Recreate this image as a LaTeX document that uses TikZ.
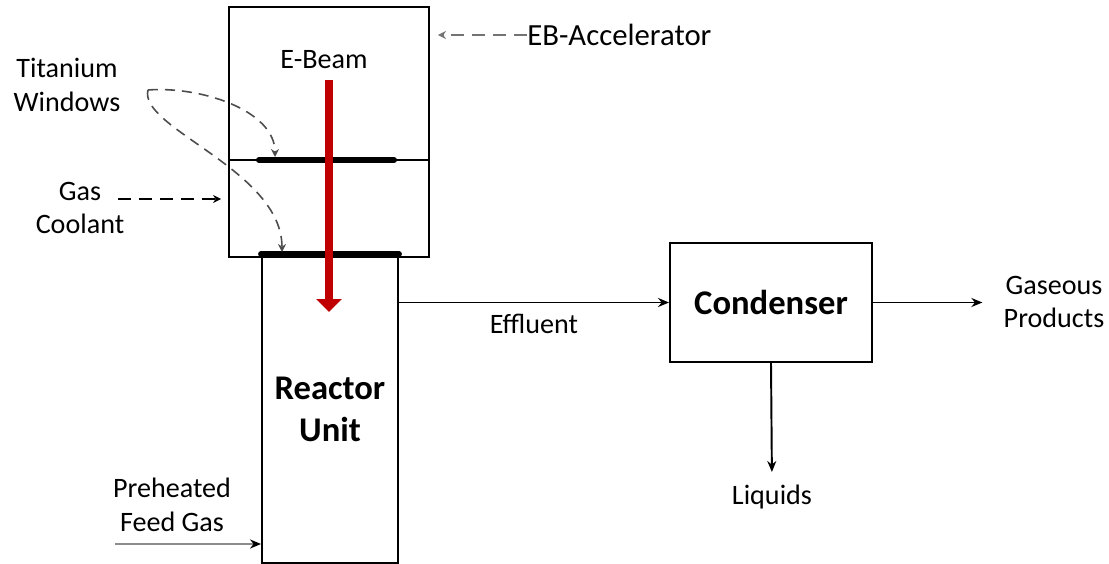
\documentclass[tikz,border=0pt]{standalone}
\usepackage{fontspec}
\setmainfont{Carlito}
\usetikzlibrary{arrows.meta,positioning}
\definecolor{beamred}{HTML}{C00000}

\begin{document}
\begin{tikzpicture}[
    x=0.02cm, y=-0.02cm,
    unit/.style={rectangle, draw, line width=1.1pt, inner sep=0pt, align=center, font=\fontsize{19.7}{24}\selectfont\bfseries},
    txt/.style={inner sep=0pt, align=center, font=\fontsize{16}{19}\selectfont},
    arrow/.style={-{Stealth[length=0.22cm,width=0.18cm]}, line width=1.1pt},
    dasharrow/.style={-{Stealth[length=0.16cm,width=0.16cm]}, line width=0.9pt, dash pattern=on 0.2cm off 0.14cm, black!70},
    window/.style={line width=3.4pt, line cap=round},
    beam/.style={-{Triangle[length=0.26cm,width=0.5cm]}, line width=4.5pt, beamred}
]
\useasboundingbox (0,0) rectangle (1109,564);

\node[unit, minimum width=4cm, minimum height=5cm] (accel) at (329,132) {};
\node[unit, minimum width=2.72cm, minimum height=6.16cm] (reactor) at (330,409) {Reactor\\Unit};
\node[unit, minimum width=4.04cm, minimum height=2.38cm] (cond) at (771,302.5) {Condenser};

\node[txt] (ebeam) at (324,60) {E-Beam};
\node[txt, anchor=west, font=\fontsize{17.5}{21}\selectfont] (ebacc) at (527,35) {EB-Accelerator};
\node[txt] (titan) at (67,85) {Titanium\\Windows};
\node[txt] (coolant) at (80,208) {Gas\\Coolant};
\node[txt] (feed) at (172,505) {Preheated\\Feed Gas};
\node[txt] (gasprod) at (1054,302) {Gaseous\\Products};
\node[txt, anchor=north] (liquids) at (772,485) {Liquids};

\coordinate (tw) at (148,90);
\coordinate (win1) at (275,157);
\coordinate (win2) at (282,252);
\coordinate (gasin) at (118,199);
\coordinate (feedin) at (115,544);
\coordinate (beamtop) at (329,80);
\coordinate (beamtip) at (329,312);

\draw[line width=1.1pt] (accel.west |- 0,160) -- (accel.east |- 0,160);
\draw[window] (259,160) -- (394,160);
\draw[window] (reactor.north west) -- (reactor.north east);
\draw[beam] (beamtop) -- (beamtip);

\draw[dasharrow] (tw) .. controls (200,86) and (275,110) .. (win1);
\draw[dasharrow] (tw) .. controls (138,128) and (282,170) .. (win2);
\draw[dasharrow, black, dash pattern=on 0.26cm off 0.16cm, shorten >=0.14cm] (gasin) -- (gasin -| accel.west);
\draw[dasharrow, black!55, dash pattern=on 0.26cm off 0.16cm, shorten >=0.16cm] (ebacc.west) -- (ebacc.west -| accel.east);

\draw[arrow, black!45, -{Stealth[length=0.22cm,width=0.18cm,color=black]}] (feedin) -- (feedin -| reactor.west);
\draw[arrow] (reactor.east |- cond.west) -- node[txt, midway, below=0.22cm] (effluent) {Effluent} (cond.west);
\draw[arrow, shorten >=0.42cm] (cond.east) -- (cond.east -| gasprod.west);
\draw[arrow, shorten >=0.26cm] (cond.south) -- (liquids.north);

\end{tikzpicture}
\end{document}
